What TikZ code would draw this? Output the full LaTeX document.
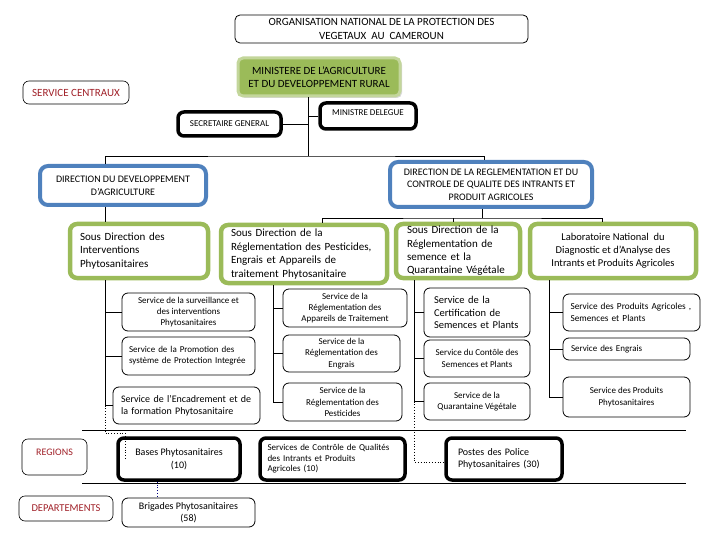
\documentclass[tikz,border=0pt]{standalone}
\usepackage{fontspec}
\setmainfont{Carlito}
\usepackage{tikz}
\usetikzlibrary{positioning,shadows}
\definecolor{boxgreen}{RGB}{155,187,89}
\definecolor{boxblue}{RGB}{79,129,189}
\definecolor{levelred}{RGB}{160,32,40}
\tikzset
{
    basebox/.style = {rectangle, rounded corners=5pt, align=center,
                          inner sep=2pt, anchor=center},
    titlebox/.style = {basebox, draw=black, line width=0.8pt},
    greenbox/.style = {basebox, draw=boxgreen, line width=4.5pt, rounded corners=7pt},
    bluebox/.style = {basebox, draw=boxblue, line width=4pt, rounded corners=8pt},
    blackbox/.style = {basebox, draw=black, line width=3.5pt, rounded corners=6pt},
    servicebox/.style = {basebox, draw=black, line width=0.8pt, rounded corners=6pt},
    levelbox/.style = {basebox, draw=black, line width=0.6pt, text=levelred,
                          rounded corners=6pt},
    link/.style = {draw=black, line width=0.8pt},
    dotlink/.style = {draw=black, line width=0.8pt, dotted}
}

\begin{document}
\begin{tikzpicture}[x=1pt, y=-1pt,
        % text sizes of the levels
        bigtext/.style={font=\fontsize{11}{13.4}\selectfont},
        midtext/.style={font=\fontsize{10}{12.5}\selectfont},
        smalltext/.style={font=\fontsize{9}{11.2}\selectfont}
      ]
    \useasboundingbox (0,0) rectangle (720,540);

    % top of the chart
    \node[titlebox, bigtext, minimum width=293pt, minimum height=28pt] (title) at (381.5,29)
        {ORGANISATION NATIONAL DE LA PROTECTION DES\\VEGETAUX\ \ AU\ \ CAMEROUN};
    \node[basebox, bigtext, fill=boxgreen, draw=boxgreen!60!white, line width=3pt,
          drop shadow={shadow xshift=2pt, shadow yshift=-2pt, opacity=0.3},
          minimum width=162pt, minimum height=38pt] (minagri) at (319,77)
        {MINISTERE DE L'AGRICULTURE\\ET DU DEVELOPPEMENT RURAL};
    \node[levelbox, bigtext, minimum width=106pt, minimum height=23pt] (central) at (76,92.5)
        {SERVICE CENTRAUX};
    \node[blackbox, smalltext, minimum width=96pt, minimum height=26pt, text depth=6pt] (delegue) at (368,116)
        {MINISTRE DELEGUE};
    \node[blackbox, smalltext, minimum width=103pt, minimum height=24pt] (secgen) at (229.5,124)
        {SECRETAIRE GENERAL};

    % directions
    \node[bluebox, midtext, font=\fontsize{10}{13}\selectfont,
          minimum width=166pt, minimum height=39pt] (dirdev) at (123,185.5)
        {DIRECTION DU DEVELOPPEMENT\\D'AGRICULTURE};
    \node[bluebox, midtext, minimum width=202pt, minimum height=45pt] (dirreg) at (491,184.5)
        {DIRECTION DE LA REGLEMENTATION ET DU\\CONTROLE DE QUALITE DES INTRANTS ET\\PRODUIT AGRICOLES};

    % sous directions
    \node[greenbox, bigtext, minimum width=138pt, minimum height=54pt,
          text width=118pt, align=left] (sdinterv) at (139,251)
        {Sous Direction des\\Interventions\\Phytosanitaires};
    \node[greenbox, bigtext, minimum width=166pt, minimum height=58pt,
          text width=146pt, align=left] (sdpest) at (304,254)
        {Sous Direction de la\\Réglementation des Pesticides,\\Engrais et Appareils de\\traitement Phytosanitaire};
    \node[greenbox, bigtext, minimum width=124pt, minimum height=54pt,
          text width=102pt, align=left] (sdsem) at (458,251)
        {Sous Direction de la\\Réglementation de\\semence et la\\Quarantaine Végétale};
    \node[greenbox, font=\fontsize{10.5}{13}\selectfont,
          minimum width=166pt, minimum height=54pt] (labo) at (613,251)
        {Laboratoire National\ \ du\\Diagnostic et d'Analyse des\\Intrants et Produits Agricoles};

    % services
    \node[servicebox, smalltext, minimum width=133pt, minimum height=38pt] (survei) at (188.5,312)
        {Service de la surveillance et\\des interventions\\Phytosanitaires};
    \node[servicebox, smalltext, minimum width=133pt, minimum height=38pt,
          text width=119pt, align=left] (promo) at (188.5,356)
        {Service de la Promotion des\\système de Protection Integrée};
    \node[servicebox, font=\fontsize{10}{12}\selectfont, minimum width=147pt, minimum height=37pt,
          text width=131pt, align=left] (encad) at (186.5,405.5)
        {Service de l'Encadrement et de\\la formation Phytosanitaire};

    \node[servicebox, smalltext, minimum width=124pt, minimum height=38pt] (appar) at (345,308)
        {Service de la\\Réglementation des\\Appareils de Traitement};
    \node[servicebox, smalltext, minimum width=117pt, minimum height=37pt] (engrais) at (341.5,353.5)
        {Service de la\\Réglementation des\\Engrais};
    \node[servicebox, smalltext, minimum width=119pt, minimum height=38pt] (pesti) at (342.5,402)
        {Service de la\\Réglementation des\\Pesticides};

    \node[servicebox, font=\fontsize{10.5}{12.5}\selectfont, minimum width=106pt, minimum height=49pt,
          text width=86pt, align=left] (certif) at (477,312.5)
        {Service de la\\Certification de\\Semences et Plants};
    \node[servicebox, smalltext, minimum width=106pt, minimum height=37pt] (controle) at (477,358.5)
        {Service du Contôle des\\Semences et Plants};
    \node[servicebox, smalltext, minimum width=106pt, minimum height=37pt] (quarant) at (477,401.5)
        {Service de la\\Quarantaine Végétale};

    \node[servicebox, font=\fontsize{9.3}{11.5}\selectfont, minimum width=137pt, minimum height=37pt,
          text width=122pt, align=left] (prodagri) at (631.5,312.5)
        {Service des Produits Agricoles ,\\Semences et Plants};
    \node[servicebox, smalltext, minimum width=127pt, minimum height=22pt,
          text width=111pt, align=left] (servengr) at (626.5,349)
        {Service des Engrais};
    \node[servicebox, smalltext, minimum width=127pt, minimum height=40pt] (prodphyto) at (626.5,397)
        {Service des Produits\\Phytosanitaires};

    % regions and departements
    \node[levelbox, midtext, minimum width=65pt, minimum height=36pt, text depth=10pt] (regions) at (54.5,457)
        {REGIONS};
    \node[blackbox, midtext, minimum width=122pt, minimum height=42pt] (bases) at (179,459)
        {Bases Phytosanitaires\\(10)};
    \node[blackbox, font=\fontsize{9}{10.5}\selectfont, minimum width=145pt, minimum height=42pt,
          text width=130pt, align=left] (servqual) at (332.5,459)
        {Services de Contrôle de Qualités\\des Intrants et Produits\\Agricoles (10)};
    \node[blackbox, midtext, minimum width=116pt, minimum height=42pt,
          text width=92pt, align=left] (postes) at (504,459)
        {Postes des Police\\Phytosanitaires (30)};
    \node[levelbox, font=\fontsize{10.5}{12.5}\selectfont, minimum width=94pt, minimum height=25pt] (depts) at (66,508.5)
        {DEPARTEMENTS};
    \node[servicebox, midtext, minimum width=133pt, minimum height=29pt] (brigades) at (188.5,512.5)
        {Brigades Phytosanitaires\\(58)};

    % connectors of the top levels
    \coordinate (trunk) at ([xshift=-11pt]minagri.south);
    \coordinate (bar1) at (308,156);
    \draw[link] (trunk) -- (bar1);
    \draw[link] (secgen.east) -- (secgen.east -| trunk);
    \draw[link] (delegue.west) -- (delegue.west -| trunk);
    \draw[link] ([xshift=-18pt]dirdev.north) |- (bar1) -| ([xshift=-7pt]dirreg.north);
    \draw[link] ([xshift=-18pt]dirdev.south) -- ([xshift=-18pt]dirdev.south |- sdinterv.north);
    \coordinate (bar2) at (482,218);
    \draw[link] ([xshift=-9pt]dirreg.south) -- (bar2);
    \draw[link] ([xshift=18pt]sdpest.north) |- (bar2) -| ([xshift=-11pt]labo.north);
    \draw[link] ([xshift=-5pt]sdsem.north) -- ([xshift=-5pt]sdsem.north |- bar2);

    % columns of services
    \coordinate (col1) at ([xshift=-34pt]sdinterv.south);
    \draw[link] (col1) |- (encad.west);
    \draw[link] (survei.west) -- (survei.west -| col1);
    \draw[link] (promo.west) -- (promo.west -| col1);
    \coordinate (col2) at ([xshift=-31pt]sdpest.south);
    \draw[link] (col2) |- (pesti.west);
    \draw[link] (appar.west) -- (appar.west -| col2);
    \draw[link] (engrais.west) -- (engrais.west -| col2);
    \coordinate (col3) at ([xshift=-44pt]sdsem.south);
    \draw[link] (col3) |- (quarant.west);
    \draw[link] (certif.west) -- (certif.west -| col3);
    \draw[link] (controle.west) -- (controle.west -| col3);
    \coordinate (col4) at ([xshift=-64pt]labo.south);
    \draw[link] (col4) |- (prodphyto.west);
    \draw[link] (prodagri.west) -- (prodagri.west -| col4);
    \draw[link] (servengr.west) -- (servengr.west -| col4);

    % level separators
    \coordinate (sepa) at (82,430);
    \coordinate (sepb) at (82,483);
    \draw[link] (sepa) -- ++(604,0);
    \draw[link] (sepb) -- ++(604,0);

    % dotted links to the regions
    \draw[dotlink] (encad.west -| col1) -- (col1 |- 0,433) -| ([xshift=9pt]bases.west);
    \draw[dotlink] (quarant.west -| col3) |- ([yshift=-3pt]postes.west);
    \draw[dotlink, draw=blue!50!black] ([xshift=-22pt]bases.south) -- ([xshift=-22pt]bases.south |- brigades.north);
\end{tikzpicture}
\end{document}
